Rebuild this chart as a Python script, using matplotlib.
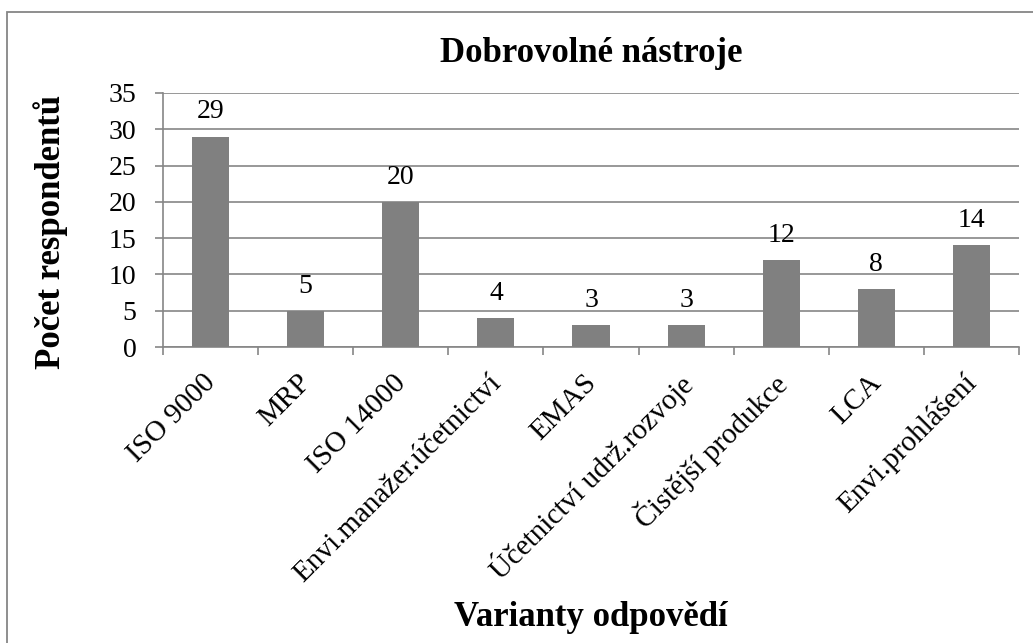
import matplotlib
matplotlib.use("Agg")
import matplotlib.pyplot as plt
import matplotlib.transforms as mtransforms
from matplotlib.patches import Rectangle

categories = ["ISO 9000", "MRP", "ISO 14000", "Envi.manažer.účetnictví", "EMAS",
              "Účetnictví udrž.rozvoje", "Čistější produkce", "LCA", "Envi.prohlášení"]
values = [29, 5, 20, 4, 3, 3, 12, 8, 14]
yticks = [0, 5, 10, 15, 20, 25, 30, 35]
title = "Dobrovolné nástroje"
xlabel = "Varianty odpovědí"
ylabel = "Počet respondentů"

plt.rcParams['font.family'] = ['Liberation Serif', 'DejaVu Serif']

W, H = 1033, 643
fig = plt.figure(figsize=(W / 100, H / 100), dpi=100)
fig.patch.set_facecolor("white")

# outer chart border
fig.add_artist(Rectangle((7 / W, -0.1), 1.2, 1 - 12 / H + 0.1, transform=fig.transFigure,
                         fill=False, edgecolor="#868686", lw=1.3))

l, r, t, b = 163, 1019, 93, 347
ax = fig.add_axes([l / W, 1 - b / H, (r - l) / W, (b - t) / H])

grid_c = "#868686"
x = list(range(len(categories)))
ax.bar(x, values, width=0.39, color="#808080", zorder=3)

ax.set_xlim(-0.5, len(categories) - 0.5)
ax.set_ylim(0, 35)
ax.set_yticks(yticks)
ax.yaxis.grid(True, color=grid_c, lw=1.2, zorder=0)
ax.set_axisbelow(True)

for s in ["top", "right"]:
    ax.spines[s].set_visible(False)
for s in ["left", "bottom"]:
    ax.spines[s].set_color(grid_c)
    ax.spines[s].set_linewidth(1.2)

ax.tick_params(axis="y", direction="out", length=6, width=1.2, color=grid_c,
               labelsize=20, pad=13)

# category boundary ticks
ax.set_xticks([i - 0.5 for i in range(len(categories) + 1)], minor=True)
ax.tick_params(axis="x", which="minor", direction="out", length=6, width=1.2, color=grid_c)
ax.set_xticks(x)
ax.set_xticklabels(categories, rotation=45, ha="right", va="center",
                   rotation_mode="anchor", fontsize=21)
ax.tick_params(axis="x", which="major", length=0, pad=23)
off = mtransforms.ScaledTranslation(1 / 72, 0, fig.dpi_scale_trans)
for lab in ax.get_xticklabels():
    lab.set_transform(lab.get_transform() + off)

for xi, v in zip(x, values):
    ax.annotate(str(v), (xi, v), xytext=(0, 13), textcoords="offset points",
                ha="center", va="baseline", fontsize=20)

fig.text((l + r) / 2 / W, 1 - 54 / H, title, ha="center", va="center",
         fontsize=25, fontweight="bold")
fig.text((l + r) / 2 / W, 1 - 617 / H, xlabel, ha="center", va="center",
         fontsize=25, fontweight="bold")
fig.text(51 / W, 1 - 232 / H, ylabel, ha="center", va="center", rotation=90,
         fontsize=25, fontweight="bold")

fig.savefig("out.png", dpi=100)
